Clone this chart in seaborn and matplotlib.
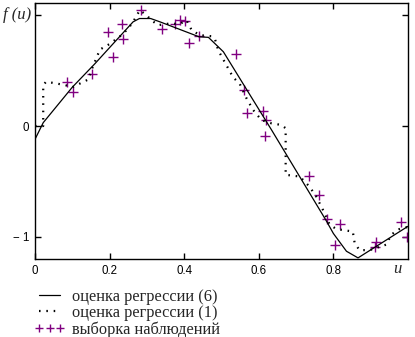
import matplotlib
matplotlib.use("Agg")
import matplotlib.pyplot as plt
from matplotlib.lines import Line2D
import seaborn as sns
import pandas as pd

# regression estimate (6) - solid line knots
x6 = [0.0, 0.022, 0.10, 0.16, 0.263, 0.28, 0.31, 0.335, 0.44, 0.465, 0.505,
      0.635, 0.78, 0.80, 0.835, 0.866, 1.0]
y6 = [-0.12, 0.03, 0.35, 0.56, 0.94, 0.97, 0.97, 0.94, 0.805, 0.80, 0.67,
      -0.04, -0.85, -0.97, -1.13, -1.19, -0.905]

# regression estimate (1) - dotted line knots
x1 = [0.0, 0.022, 0.022, 0.03, 0.08, 0.10, 0.143, 0.152, 0.174, 0.20, 0.232,
      0.25, 0.263, 0.281, 0.299, 0.312, 0.33, 0.361, 0.388, 0.406, 0.42,
      0.442, 0.473, 0.482, 0.491, 0.513, 0.531, 0.549, 0.567, 0.585, 0.607,
      0.634, 0.66, 0.672, 0.672, 0.71, 0.736, 0.754, 0.772, 0.79, 0.808,
      0.852, 0.857, 0.87, 0.897, 0.942, 0.955, 0.977, 1.0]
y1 = [0.0, 0.0, 0.37, 0.40, 0.37, 0.35, 0.42, 0.51, 0.69, 0.74, 0.82,
      0.88, 0.94, 1.045, 1.0, 0.955, 0.91, 0.925, 0.92, 0.955, 0.865,
      0.82, 0.81, 0.79, 0.685, 0.55, 0.44, 0.38, 0.25, 0.144, 0.054,
      0.024, 0.01, -0.02, -0.44, -0.456, -0.547, -0.637, -0.757, -0.89, -0.93,
      -0.952, -1.057, -1.12, -1.12, -1.07, -0.98, -0.93, -0.91]

# observation sample
xs = [0.086, 0.103, 0.154, 0.196, 0.210, 0.232, 0.235, 0.283, 0.341, 0.375,
      0.389, 0.402, 0.413, 0.439, 0.538, 0.559, 0.568, 0.610, 0.618, 0.616,
      0.734, 0.761, 0.782, 0.818, 0.803, 0.913, 0.912, 0.981, 0.996]
ys = [0.394, 0.306, 0.466, 0.844, 0.625, 0.916, 0.787, 1.051, 0.871, 0.916,
      0.961, 0.949, 0.751, 0.811, 0.646, 0.324, 0.114, 0.135, 0.054, -0.090,
      -0.453, -0.625, -0.838, -0.886, -1.075, -1.048, -1.093, -0.868, -1.003]

xticks = [0, 0.2, 0.4, 0.6, 0.8]
xticklabels = ["0", "0.2", "0.4", "0.6", "0.8"]
yticks = [-1, 0, 1]
yticklabels = ["\u2212 1", "0", ""]
legend_labels = ["оценка регрессии (6)", "оценка регрессии (1)",
                 "выборка наблюдений"]

sns.set_style("ticks")
plt.rcParams["font.family"] = ["Liberation Serif", "DejaVu Serif"]

fig = plt.figure(figsize=(4.15, 3.37), dpi=100)
ax = fig.add_axes([35 / 415, 1 - 259 / 337, 373 / 415, 256 / 337])

d6 = pd.DataFrame({"x": x6, "y": y6})
d1 = pd.DataFrame({"x": x1, "y": y1})
ds = pd.DataFrame({"x": xs, "y": ys})

dotted = (0, (0.7, 2.6))
sns.lineplot(data=d6, x="x", y="y", ax=ax, color="black", lw=0.9,
             estimator=None, sort=False)
sns.lineplot(data=d1, x="x", y="y", ax=ax, color="black", lw=1.6,
             linestyle=dotted, estimator=None, sort=False)
sns.scatterplot(data=ds, x="x", y="y", ax=ax, marker="+", color="#800080",
                s=50, linewidth=1.0)

ax.set_xlim(0, 1.0)
ax.set_ylim(-1.2, 1.11)
ax.set_xlabel("")
ax.set_ylabel("")
ax.set_xticks(xticks)
ax.set_xticklabels(xticklabels)
ax.set_yticks(yticks)
ax.set_yticklabels(yticklabels)
for sp in ax.spines.values():
    sp.set_visible(True)
    sp.set_linewidth(1.0)
    sp.set_color("black")
ax.tick_params(direction="in", length=4.5, width=1.0, top=True, right=True,
               labelsize=8.3, pad=4, colors="black")
for lab in ax.get_xticklabels() + ax.get_yticklabels():
    lab.set_family(["Liberation Sans", "DejaVu Sans"])

fig.text(3 / 415, 1 - 15 / 337, "f (u)", fontsize=12, style="italic",
         va="center", ha="left")
fig.text(397 / 415, 1 - 269 / 337, "u", fontsize=12, style="italic",
         va="center", ha="center")

handles = [
    Line2D([], [], color="black", lw=0.9),
    Line2D([], [], color="black", lw=1.6, linestyle=dotted),
    Line2D([], [], color="#800080", linestyle="none", marker="+",
           markersize=5.5, markeredgewidth=1.0),
]
ax.legend(handles, legend_labels, loc="upper left",
          bbox_to_anchor=(34 / 415, 1 - 289 / 337),
          bbox_transform=fig.transFigure, frameon=False, fontsize=11.8,
          handlelength=1.9, handletextpad=0.4, labelspacing=0.0,
          borderpad=0, borderaxespad=0, numpoints=3)

fig.savefig("out.png", dpi=100)
